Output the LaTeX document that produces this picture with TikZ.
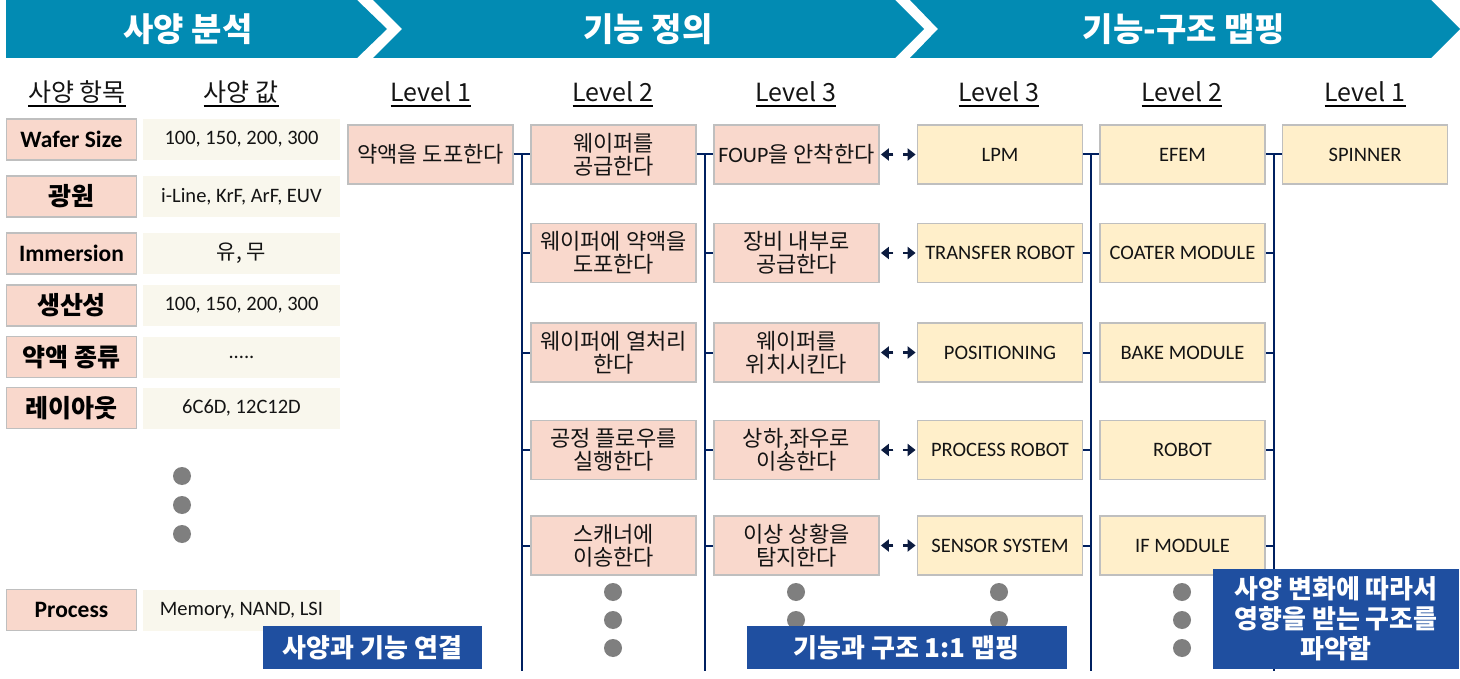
\documentclass[tikz,border=0pt]{standalone}
\usepackage{fontspec}
\setmainfont{Carlito}
\newfontfamily\kr{Noto Sans CJK KR}
\usetikzlibrary{arrows.meta,calc}
\definecolor{banc}{RGB}{2,139,179}
\definecolor{pinkc}{RGB}{249,216,204}
\definecolor{creamc}{RGB}{249,247,237}
\definecolor{yelc}{RGB}{255,239,202}
\definecolor{grayb}{RGB}{191,191,191}
\definecolor{navyc}{RGB}{0,32,96}
\definecolor{arrc}{RGB}{12,28,64}
\definecolor{bluel}{RGB}{31,79,160}
\definecolor{dotc}{RGB}{127,127,127}
\definecolor{txtc}{RGB}{20,20,20}
\newcommand\fsz[2]{\fontsize{#1}{#2}\selectfont}
\begin{document}
\begin{tikzpicture}[x=1pt,y=-1pt,
  ban/.style={text=white,font=\kr\bfseries\fsz{33}{35},inner sep=0pt},
  hdr/.style={font=\kr\fsz{25}{28},inner sep=0pt,anchor=base,text=txtc},
  ul/.style={line width=1.3pt,draw=black},
  ibox/.style={rectangle,fill=pinkc,draw=grayb,line width=1.8pt,minimum width=130pt,minimum height=41pt,inner sep=0pt,font=\bfseries\fsz{23.5}{26},text=black},
  kb/.style={font=\kr\bfseries\fsz{25}{28}},
  vbox/.style={rectangle,fill=creamc,minimum width=197pt,minimum height=41pt,inner sep=0pt,font=\fsz{20.5}{22},text=txtc},
  fbox/.style={rectangle,fill=pinkc,draw=grayb,line width=1.8pt,minimum width=165pt,minimum height=59pt,inner sep=0pt,align=center,font=\kr\fsz{22}{23},text=txtc},
  sbox/.style={rectangle,fill=yelc,draw=grayb,line width=1.8pt,minimum width=165pt,minimum height=59pt,inner sep=0pt,align=center,font=\fsz{20.5}{22.5},text=txtc},
  vl/.style={draw=navyc,line width=2pt},
  ah/.style={draw=arrc,fill=arrc,line width=2.2pt,-{Triangle[length=8pt,width=12pt]},shorten >=1pt},
  dotn/.style={circle,fill=dotc,minimum size=18pt,inner sep=0pt},
  blab/.style={rectangle,fill=bluel,text=white,inner sep=0pt,align=center,font=\kr\bfseries\fsz{26}{30}}
]
\useasboundingbox[fill=white] (0,0) rectangle (1460,679);

% banners
\fill[banc] (6,0) -- (357,0) -- (387,29) -- (357,58) -- (6,58) -- cycle;
\fill[banc] (373,0) -- (895,0) -- (924,29) -- (895,58) -- (373,58) -- (402,29) -- cycle;
\fill[banc] (910,0) -- (1431,0) -- (1460,29) -- (1431,58) -- (910,58) -- (938,29) -- cycle;
\node[ban] (ban1) at (188,29) {사양 분석};
\node[ban] (ban2) at (648,29) {기능 정의};
\node[ban] (ban3) at (1184,29) {기능-구조 맵핑};

% headers
\foreach \nm/\hx/\tx in {h1/77/사양 항목, h2/241/사양 값, h3/431/Level 1, h4/613/Level 2, h5/796/Level 3, h6/999/Level 3, h7/1182/Level 2, h8/1365/Level 1}{
  \node[hdr] (\nm) at (\hx,102) {\tx};
  \draw[ul] ([yshift=-4pt]\nm.base west) -- ([yshift=-4pt]\nm.base east);
}

% spec items and values
\node[ibox] (i1) at (71.5,139.5) {Wafer Size};
\node[ibox,kb] (i2) at (71.5,196.5) {광원};
\node[ibox] (i3) at (71.5,253.5) {Immersion};
\node[ibox,kb] (i4) at (71.5,305.5) {생산성};
\node[ibox,kb] (i5) at (71.5,357) {약액 종류};
\node[ibox,kb] (i6) at (71.5,408) {레이아웃};
\node[ibox] (i7) at (71.5,610) {Process};
\node[vbox] (v1) at (241.5,139.5) {100, 150, 200, 300};
\node[vbox] (v2) at (241.5,196.5) {i-Line, KrF, ArF, EUV};
\node[vbox] (v3) at (241.5,253.5) {\kr\fsz{21}{22}유, 무};
\node[vbox] (v4) at (241.5,305.5) {100, 150, 200, 300};
\node[vbox] (v5) at (241.5,357) {.....};
\node[vbox] (v6) at (241.5,408) {6C6D, 12C12D};
\node[vbox] (v7) at (241.5,610) {Memory, NAND, LSI};
\node[dotn] (ld1) at (182,476) {};
\node[dotn] (ld2) at (182,505) {};
\node[dotn] (ld3) at (182,534) {};

% function boxes
\node[fbox] (f1) at (430.5,154.5) {약액을 도포한다};
\node[fbox] (f2r1) at (613.5,154.5) {웨이퍼를\\공급한다};
\node[fbox] (f2r2) at (613.5,253) {웨이퍼에 약액을\\도포한다};
\node[fbox] (f2r3) at (613.5,352.5) {웨이퍼에 열처리\\한다};
\node[fbox] (f2r4) at (613.5,450) {공정 플로우를\\실행한다};
\node[fbox] (f2r5) at (613.5,545.5) {스캐너에\\이송한다};
\node[fbox] (f3r1) at (796.5,154.5) {{\rmfamily FOUP}을 안착한다};
\node[fbox] (f3r2) at (796.5,253) {장비 내부로\\공급한다};
\node[fbox] (f3r3) at (796.5,352.5) {웨이퍼를\\위치시킨다};
\node[fbox] (f3r4) at (796.5,450) {상하,좌우로\\이송한다};
\node[fbox] (f3r5) at (796.5,545.5) {이상 상황을\\탐지한다};

% structure boxes
\node[sbox] (s3r1) at (1000,154.5) {LPM};
\node[sbox] (s3r2) at (1000,253) {TRANSFER ROBOT};
\node[sbox] (s3r3) at (1000,352.5) {POSITIONING};
\node[sbox] (s3r4) at (1000,450) {PROCESS ROBOT};
\node[sbox] (s3r5) at (1000,545.5) {SENSOR SYSTEM};
\node[sbox] (s2r1) at (1182.5,154.5) {EFEM};
\node[sbox] (s2r2) at (1182.5,253) {COATER MODULE};
\node[sbox] (s2r3) at (1182.5,352.5) {BAKE MODULE};
\node[sbox] (s2r4) at (1182.5,450) {ROBOT};
\node[sbox] (s2r5) at (1182.5,545.5) {IF MODULE};
\node[sbox] (s1) at (1365,154.5) {SPINNER};

% tree connectors
\coordinate (c1t) at (522,154.5); \coordinate (c1b) at (522,671);
\coordinate (c2t) at (705,154.5); \coordinate (c2b) at (705,671);
\coordinate (c3t) at (1091,154.5); \coordinate (c3b) at (1091,671);
\coordinate (c4t) at (1274,154.5); \coordinate (c4b) at (1274,671);
\draw[vl] (c1t) -- (c1b);
\draw[vl] (c2t) -- (c2b);
\draw[vl] (c3t) -- (c3b);
\draw[vl] (c4t) -- (c4b);
\draw[vl] (f1.east) -- (f2r1.west);
\draw[vl] (f2r1.east) -- (f3r1.west);
\draw[vl] (s3r1.east) -- (s2r1.west);
\draw[vl] (s2r1.east) -- (s1.west);
\foreach \r in {2,3,4,5}{
  \draw[vl] (f2r\r.west -| c1t) -- (f2r\r.west);
  \draw[vl] (f3r\r.west -| c2t) -- (f3r\r.west);
  \draw[vl] (s3r\r.east) -- (s3r\r.east -| c3t);
  \draw[vl] (s2r\r.east) -- (s2r\r.east -| c4t);
}
\foreach \r in {1,2,3,4,5}{
  \coordinate (m\r) at ($(f3r\r.east)!0.5!(s3r\r.west)$);
  \draw[ah] ([xshift=-5pt]m\r) -- (f3r\r.east);
  \draw[ah] ([xshift=5pt]m\r) -- (s3r\r.west);
}

% dots
\foreach \dx/\nm in {613/a,796/b,999/c,1182/d}{
  \node[dotn] (dd\nm1) at (\dx,592) {};
  \node[dotn] (dd\nm2) at (\dx,620) {};
  \node[dotn] (dd\nm3) at (\dx,648) {};
}

% labels
\node[blab,minimum width=219pt,minimum height=43pt] (lab1) at (372.5,647.5) {사양과 기능 연결};
\node[blab,minimum width=320pt,minimum height=43pt] (lab2) at (906.5,647.5) {기능과 구조 1:1 맵핑};
\node[blab,minimum width=246pt,minimum height=100pt] (lab3) at (1336,619) {사양 변화에 따라서\\영향을 받는 구조를\\파악함};
\end{tikzpicture}
\end{document}
